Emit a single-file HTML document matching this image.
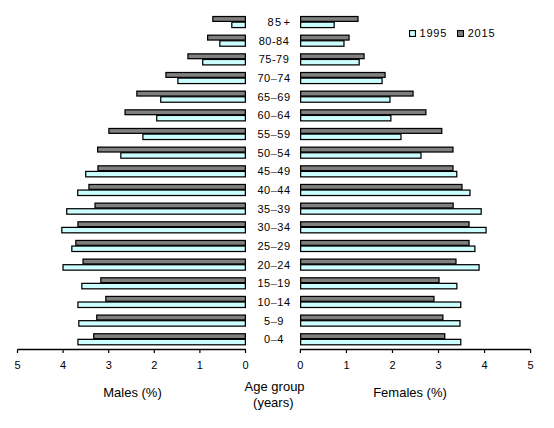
<!DOCTYPE html>
<html><head><meta charset="utf-8">
<style>
html,body{margin:0;padding:0;background:#fff;}
body{width:554px;height:428px;overflow:hidden;}
svg{display:block;}
text{font-family:"Liberation Sans",sans-serif;fill:#000;}
.age{font-size:11px;text-anchor:middle;letter-spacing:0.5px;}
.tick{font-size:11px;text-anchor:middle;}
.title{font-size:13px;text-anchor:middle;}
.leg{font-size:11px;letter-spacing:0.8px;}
</style></head>
<body>
<svg width="554" height="428" viewBox="0 0 554 428">
<rect x="212.20" y="15.90" width="33.80" height="6.10" fill="#000"/>
<rect x="231.20" y="21.50" width="14.80" height="6.70" fill="#000"/>
<rect x="300.00" y="15.90" width="58.60" height="6.10" fill="#000"/>
<rect x="300.00" y="21.50" width="34.80" height="6.70" fill="#000"/>
<rect x="213.45" y="17.15" width="31.30" height="3.60" fill="#808080"/>
<rect x="232.45" y="22.75" width="12.30" height="4.20" fill="#ccffff"/>
<rect x="301.25" y="17.15" width="56.10" height="3.60" fill="#808080"/>
<rect x="301.25" y="22.75" width="32.30" height="4.20" fill="#ccffff"/>
<text x="267.5" y="25.95" class="age" style="text-anchor:start;letter-spacing:1.5px">85</text>
<text x="286.8" y="25.95" class="age" style="letter-spacing:0">+</text>
<rect x="207.00" y="34.56" width="39.00" height="6.10" fill="#000"/>
<rect x="219.20" y="40.16" width="26.80" height="6.70" fill="#000"/>
<rect x="300.00" y="34.56" width="49.70" height="6.10" fill="#000"/>
<rect x="300.00" y="40.16" width="44.60" height="6.70" fill="#000"/>
<rect x="208.25" y="35.81" width="36.50" height="3.60" fill="#808080"/>
<rect x="220.45" y="41.41" width="24.30" height="4.20" fill="#ccffff"/>
<rect x="301.25" y="35.81" width="47.20" height="3.60" fill="#808080"/>
<rect x="301.25" y="41.41" width="42.10" height="4.20" fill="#ccffff"/>
<text x="274" y="44.61" class="age">80-84</text>
<rect x="187.30" y="53.22" width="58.70" height="6.10" fill="#000"/>
<rect x="202.10" y="58.82" width="43.90" height="6.70" fill="#000"/>
<rect x="300.00" y="53.22" width="64.70" height="6.10" fill="#000"/>
<rect x="300.00" y="58.82" width="59.80" height="6.70" fill="#000"/>
<rect x="188.55" y="54.47" width="56.20" height="3.60" fill="#808080"/>
<rect x="203.35" y="60.07" width="41.40" height="4.20" fill="#ccffff"/>
<rect x="301.25" y="54.47" width="62.20" height="3.60" fill="#808080"/>
<rect x="301.25" y="60.07" width="57.30" height="4.20" fill="#ccffff"/>
<text x="274" y="63.27" class="age">75-79</text>
<rect x="165.30" y="71.88" width="80.70" height="6.10" fill="#000"/>
<rect x="177.25" y="77.48" width="68.75" height="6.70" fill="#000"/>
<rect x="300.00" y="71.88" width="85.70" height="6.10" fill="#000"/>
<rect x="300.00" y="77.48" width="82.70" height="6.70" fill="#000"/>
<rect x="166.55" y="73.13" width="78.20" height="3.60" fill="#808080"/>
<rect x="178.50" y="78.73" width="66.25" height="4.20" fill="#ccffff"/>
<rect x="301.25" y="73.13" width="83.20" height="3.60" fill="#808080"/>
<rect x="301.25" y="78.73" width="80.20" height="4.20" fill="#ccffff"/>
<text x="274" y="81.93" class="age">70<tspan fill="#555">–</tspan>74</text>
<rect x="136.20" y="90.54" width="109.80" height="6.10" fill="#000"/>
<rect x="160.10" y="96.14" width="85.90" height="6.70" fill="#000"/>
<rect x="300.00" y="90.54" width="113.70" height="6.10" fill="#000"/>
<rect x="300.00" y="96.14" width="90.60" height="6.70" fill="#000"/>
<rect x="137.45" y="91.79" width="107.30" height="3.60" fill="#808080"/>
<rect x="161.35" y="97.39" width="83.40" height="4.20" fill="#ccffff"/>
<rect x="301.25" y="91.79" width="111.20" height="3.60" fill="#808080"/>
<rect x="301.25" y="97.39" width="88.10" height="4.20" fill="#ccffff"/>
<text x="274" y="100.59" class="age">65<tspan fill="#555">–</tspan>69</text>
<rect x="124.40" y="109.20" width="121.60" height="6.10" fill="#000"/>
<rect x="156.10" y="114.80" width="89.90" height="6.70" fill="#000"/>
<rect x="300.00" y="109.20" width="126.50" height="6.10" fill="#000"/>
<rect x="300.00" y="114.80" width="91.50" height="6.70" fill="#000"/>
<rect x="125.65" y="110.45" width="119.10" height="3.60" fill="#808080"/>
<rect x="157.35" y="116.05" width="87.40" height="4.20" fill="#ccffff"/>
<rect x="301.25" y="110.45" width="124.00" height="3.60" fill="#808080"/>
<rect x="301.25" y="116.05" width="89.00" height="4.20" fill="#ccffff"/>
<text x="274" y="119.25" class="age">60<tspan fill="#555">–</tspan>64</text>
<rect x="108.25" y="127.86" width="137.75" height="6.10" fill="#000"/>
<rect x="142.30" y="133.46" width="103.70" height="6.70" fill="#000"/>
<rect x="300.00" y="127.86" width="142.40" height="6.10" fill="#000"/>
<rect x="300.00" y="133.46" width="101.60" height="6.70" fill="#000"/>
<rect x="109.50" y="129.11" width="135.25" height="3.60" fill="#808080"/>
<rect x="143.55" y="134.71" width="101.20" height="4.20" fill="#ccffff"/>
<rect x="301.25" y="129.11" width="139.90" height="3.60" fill="#808080"/>
<rect x="301.25" y="134.71" width="99.10" height="4.20" fill="#ccffff"/>
<text x="274" y="137.91" class="age">55<tspan fill="#555">–</tspan>59</text>
<rect x="97.00" y="146.52" width="149.00" height="6.10" fill="#000"/>
<rect x="120.20" y="152.12" width="125.80" height="6.70" fill="#000"/>
<rect x="300.00" y="146.52" width="153.60" height="6.10" fill="#000"/>
<rect x="300.00" y="152.12" width="121.60" height="6.70" fill="#000"/>
<rect x="98.25" y="147.77" width="146.50" height="3.60" fill="#808080"/>
<rect x="121.45" y="153.37" width="123.30" height="4.20" fill="#ccffff"/>
<rect x="301.25" y="147.77" width="151.10" height="3.60" fill="#808080"/>
<rect x="301.25" y="153.37" width="119.10" height="4.20" fill="#ccffff"/>
<text x="274" y="156.57" class="age">50<tspan fill="#555">–</tspan>54</text>
<rect x="97.30" y="165.18" width="148.70" height="6.10" fill="#000"/>
<rect x="85.10" y="170.78" width="160.90" height="6.70" fill="#000"/>
<rect x="300.00" y="165.18" width="153.60" height="6.10" fill="#000"/>
<rect x="300.00" y="170.78" width="157.40" height="6.70" fill="#000"/>
<rect x="98.55" y="166.43" width="146.20" height="3.60" fill="#808080"/>
<rect x="86.35" y="172.03" width="158.40" height="4.20" fill="#ccffff"/>
<rect x="301.25" y="166.43" width="151.10" height="3.60" fill="#808080"/>
<rect x="301.25" y="172.03" width="154.90" height="4.20" fill="#ccffff"/>
<text x="274" y="175.23" class="age">45<tspan fill="#555">–</tspan>49</text>
<rect x="88.30" y="183.84" width="157.70" height="6.10" fill="#000"/>
<rect x="77.10" y="189.44" width="168.90" height="6.70" fill="#000"/>
<rect x="300.00" y="183.84" width="162.60" height="6.10" fill="#000"/>
<rect x="300.00" y="189.44" width="170.60" height="6.70" fill="#000"/>
<rect x="89.55" y="185.09" width="155.20" height="3.60" fill="#808080"/>
<rect x="78.35" y="190.69" width="166.40" height="4.20" fill="#ccffff"/>
<rect x="301.25" y="185.09" width="160.10" height="3.60" fill="#808080"/>
<rect x="301.25" y="190.69" width="168.10" height="4.20" fill="#ccffff"/>
<text x="274" y="193.89" class="age">40<tspan fill="#555">–</tspan>44</text>
<rect x="94.40" y="202.50" width="151.60" height="6.10" fill="#000"/>
<rect x="66.10" y="208.10" width="179.90" height="6.70" fill="#000"/>
<rect x="300.00" y="202.50" width="153.80" height="6.10" fill="#000"/>
<rect x="300.00" y="208.10" width="181.80" height="6.70" fill="#000"/>
<rect x="95.65" y="203.75" width="149.10" height="3.60" fill="#808080"/>
<rect x="67.35" y="209.35" width="177.40" height="4.20" fill="#ccffff"/>
<rect x="301.25" y="203.75" width="151.30" height="3.60" fill="#808080"/>
<rect x="301.25" y="209.35" width="179.30" height="4.20" fill="#ccffff"/>
<text x="274" y="212.55" class="age">35<tspan fill="#555">–</tspan>39</text>
<rect x="77.30" y="221.16" width="168.70" height="6.10" fill="#000"/>
<rect x="61.20" y="226.76" width="184.80" height="6.70" fill="#000"/>
<rect x="300.00" y="221.16" width="169.70" height="6.10" fill="#000"/>
<rect x="300.00" y="226.76" width="186.70" height="6.70" fill="#000"/>
<rect x="78.55" y="222.41" width="166.20" height="3.60" fill="#808080"/>
<rect x="62.45" y="228.01" width="182.30" height="4.20" fill="#ccffff"/>
<rect x="301.25" y="222.41" width="167.20" height="3.60" fill="#808080"/>
<rect x="301.25" y="228.01" width="184.20" height="4.20" fill="#ccffff"/>
<text x="274" y="231.21" class="age">30<tspan fill="#555">–</tspan>34</text>
<rect x="75.20" y="239.82" width="170.80" height="6.10" fill="#000"/>
<rect x="71.20" y="245.42" width="174.80" height="6.70" fill="#000"/>
<rect x="300.00" y="239.82" width="169.70" height="6.10" fill="#000"/>
<rect x="300.00" y="245.42" width="175.50" height="6.70" fill="#000"/>
<rect x="76.45" y="241.07" width="168.30" height="3.60" fill="#808080"/>
<rect x="72.45" y="246.67" width="172.30" height="4.20" fill="#ccffff"/>
<rect x="301.25" y="241.07" width="167.20" height="3.60" fill="#808080"/>
<rect x="301.25" y="246.67" width="173.00" height="4.20" fill="#ccffff"/>
<text x="274" y="249.87" class="age">25<tspan fill="#555">–</tspan>29</text>
<rect x="82.40" y="258.48" width="163.60" height="6.10" fill="#000"/>
<rect x="62.40" y="264.08" width="183.60" height="6.70" fill="#000"/>
<rect x="300.00" y="258.48" width="156.60" height="6.10" fill="#000"/>
<rect x="300.00" y="264.08" width="179.70" height="6.70" fill="#000"/>
<rect x="83.65" y="259.73" width="161.10" height="3.60" fill="#808080"/>
<rect x="63.65" y="265.33" width="181.10" height="4.20" fill="#ccffff"/>
<rect x="301.25" y="259.73" width="154.10" height="3.60" fill="#808080"/>
<rect x="301.25" y="265.33" width="177.20" height="4.20" fill="#ccffff"/>
<text x="274" y="268.53" class="age">20<tspan fill="#555">–</tspan>24</text>
<rect x="100.20" y="277.14" width="145.80" height="6.10" fill="#000"/>
<rect x="81.20" y="282.74" width="164.80" height="6.70" fill="#000"/>
<rect x="300.00" y="277.14" width="139.70" height="6.10" fill="#000"/>
<rect x="300.00" y="282.74" width="157.50" height="6.70" fill="#000"/>
<rect x="101.45" y="278.39" width="143.30" height="3.60" fill="#808080"/>
<rect x="82.45" y="283.99" width="162.30" height="4.20" fill="#ccffff"/>
<rect x="301.25" y="278.39" width="137.20" height="3.60" fill="#808080"/>
<rect x="301.25" y="283.99" width="155.00" height="4.20" fill="#ccffff"/>
<text x="274" y="287.19" class="age">15<tspan fill="#555">–</tspan>19</text>
<rect x="105.20" y="295.80" width="140.80" height="6.10" fill="#000"/>
<rect x="77.30" y="301.40" width="168.70" height="6.70" fill="#000"/>
<rect x="300.00" y="295.80" width="134.60" height="6.10" fill="#000"/>
<rect x="300.00" y="301.40" width="161.40" height="6.70" fill="#000"/>
<rect x="106.45" y="297.05" width="138.30" height="3.60" fill="#808080"/>
<rect x="78.55" y="302.65" width="166.20" height="4.20" fill="#ccffff"/>
<rect x="301.25" y="297.05" width="132.10" height="3.60" fill="#808080"/>
<rect x="301.25" y="302.65" width="158.90" height="4.20" fill="#ccffff"/>
<text x="274" y="305.85" class="age">10<tspan fill="#555">–</tspan>14</text>
<rect x="96.10" y="314.46" width="149.90" height="6.10" fill="#000"/>
<rect x="78.20" y="320.06" width="167.80" height="6.70" fill="#000"/>
<rect x="300.00" y="314.46" width="143.50" height="6.10" fill="#000"/>
<rect x="300.00" y="320.06" width="160.60" height="6.70" fill="#000"/>
<rect x="97.35" y="315.71" width="147.40" height="3.60" fill="#808080"/>
<rect x="79.45" y="321.31" width="165.30" height="4.20" fill="#ccffff"/>
<rect x="301.25" y="315.71" width="141.00" height="3.60" fill="#808080"/>
<rect x="301.25" y="321.31" width="158.10" height="4.20" fill="#ccffff"/>
<text x="274" y="324.51" class="age">5<tspan fill="#555">–</tspan>9</text>
<rect x="93.10" y="333.12" width="152.90" height="6.10" fill="#000"/>
<rect x="77.30" y="338.72" width="168.70" height="6.70" fill="#000"/>
<rect x="300.00" y="333.12" width="145.40" height="6.10" fill="#000"/>
<rect x="300.00" y="338.72" width="161.40" height="6.70" fill="#000"/>
<rect x="94.35" y="334.37" width="150.40" height="3.60" fill="#808080"/>
<rect x="78.55" y="339.97" width="166.20" height="4.20" fill="#ccffff"/>
<rect x="301.25" y="334.37" width="142.90" height="3.60" fill="#808080"/>
<rect x="301.25" y="339.97" width="158.90" height="4.20" fill="#ccffff"/>
<text x="274" y="343.17" class="age">0<tspan fill="#555">–</tspan>4</text>
<line x1="17.4" y1="349.5" x2="246" y2="349.5" stroke="#000" stroke-width="1.3"/>
<line x1="300" y1="349.5" x2="530.6" y2="349.5" stroke="#000" stroke-width="1.3"/>
<line x1="245.50" y1="349.5" x2="245.50" y2="353" stroke="#000" stroke-width="1.2"/>
<line x1="300.40" y1="349.5" x2="300.40" y2="353" stroke="#000" stroke-width="1.2"/>
<text x="245.50" y="368.7" class="tick">0</text>
<text x="300.40" y="368.7" class="tick">0</text>
<line x1="199.90" y1="349.5" x2="199.90" y2="353" stroke="#000" stroke-width="1.2"/>
<line x1="346.44" y1="349.5" x2="346.44" y2="353" stroke="#000" stroke-width="1.2"/>
<text x="199.90" y="368.7" class="tick">1</text>
<text x="346.44" y="368.7" class="tick">1</text>
<line x1="154.30" y1="349.5" x2="154.30" y2="353" stroke="#000" stroke-width="1.2"/>
<line x1="392.48" y1="349.5" x2="392.48" y2="353" stroke="#000" stroke-width="1.2"/>
<text x="154.30" y="368.7" class="tick">2</text>
<text x="392.48" y="368.7" class="tick">2</text>
<line x1="108.70" y1="349.5" x2="108.70" y2="353" stroke="#000" stroke-width="1.2"/>
<line x1="438.52" y1="349.5" x2="438.52" y2="353" stroke="#000" stroke-width="1.2"/>
<text x="108.70" y="368.7" class="tick">3</text>
<text x="438.52" y="368.7" class="tick">3</text>
<line x1="63.10" y1="349.5" x2="63.10" y2="353" stroke="#000" stroke-width="1.2"/>
<line x1="484.56" y1="349.5" x2="484.56" y2="353" stroke="#000" stroke-width="1.2"/>
<text x="63.10" y="368.7" class="tick">4</text>
<text x="484.56" y="368.7" class="tick">4</text>
<line x1="17.50" y1="349.5" x2="17.50" y2="353" stroke="#000" stroke-width="1.2"/>
<line x1="530.60" y1="349.5" x2="530.60" y2="353" stroke="#000" stroke-width="1.2"/>
<text x="17.50" y="368.7" class="tick">5</text>
<text x="530.60" y="368.7" class="tick">5</text>
<text x="132.5" y="396.8" class="title">Males (%)</text>
<text x="410" y="397.4" class="title">Females (%)</text>
<text x="274.6" y="390.8" class="title">Age group</text>
<text x="273.3" y="407" class="title">(years)</text>
<rect x="409.00" y="30.00" width="7.00" height="7.00" fill="#000"/>
<rect x="410.10" y="31.10" width="4.80" height="4.80" fill="#ccffff"/>
<rect x="457.00" y="30.00" width="7.00" height="7.00" fill="#000"/>
<rect x="458.10" y="31.10" width="4.80" height="4.80" fill="#808080"/>
<text x="419.5" y="37.1" class="leg">1995</text>
<text x="467.7" y="37.1" class="leg">2015</text>
</svg>
</body></html>
